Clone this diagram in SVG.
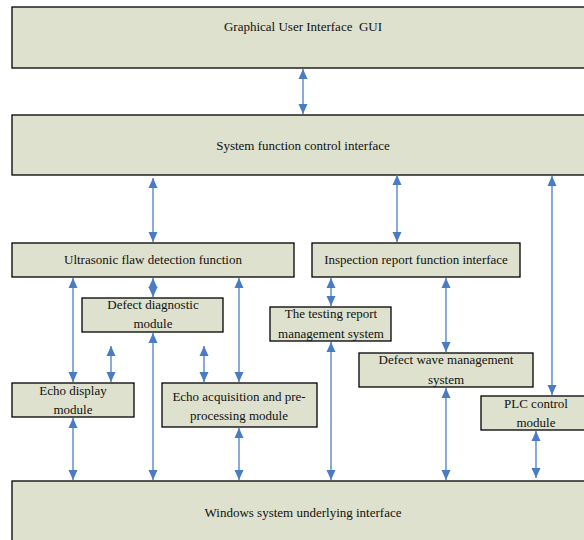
<svg xmlns="http://www.w3.org/2000/svg" width="584" height="540" viewBox="0 0 584 540">
<style>
.box{fill:#dee1cd;stroke:#000;stroke-width:1.3}
.t{font-family:"Liberation Serif","Times New Roman",serif;font-size:13px;fill:#111;text-anchor:middle;white-space:pre}
.c{stroke:#4a7cc6;stroke-width:1.3;fill:none;marker-start:url(#ah);marker-end:url(#ah)}
</style>
<defs>
<marker id="ah" markerUnits="userSpaceOnUse" markerWidth="10" markerHeight="10" refX="10" refY="4.5" orient="auto-start-reverse" viewBox="0 0 10 9">
<path d="M0,0 L10,4.5 L0,9 z" fill="#4a7cc6"/>
</marker>
</defs>
<rect width="584" height="540" fill="#fff"/>
<g id="gui"><rect class="box" x="12" y="7" width="580" height="61"/><text class="t" x="303" y="31" xml:space="preserve">Graphical User Interface  GUI</text></g>
<g id="sys"><rect class="box" x="12" y="115" width="580" height="60"/><text class="t" x="303" y="150">System function control interface</text></g>
<g id="ultra"><rect class="box" x="12" y="243" width="282" height="34"/><text class="t" x="153" y="264">Ultrasonic flaw detection function</text></g>
<g id="insp"><rect class="box" x="312" y="243" width="208" height="34"/><text class="t" x="416" y="264">Inspection report function interface</text></g>
<g id="diag"><rect class="box" x="82" y="298" width="141" height="34"/><text class="t" x="153" y="309">Defect diagnostic</text><text class="t" x="153" y="328">module</text></g>
<g id="testrep"><rect class="box" x="270" y="307" width="121" height="34"/><text class="t" x="331" y="318">The testing report</text><text class="t" x="331" y="338">management system</text></g>
<g id="wave"><rect class="box" x="359" y="353" width="174" height="34"/><text class="t" x="446" y="364">Defect wave management</text><text class="t" x="446" y="384">system</text></g>
<g id="echodisp"><rect class="box" x="12" y="383" width="122" height="34"/><text class="t" x="73" y="395">Echo display</text><text class="t" x="73" y="414">module</text></g>
<g id="echoacq"><rect class="box" x="162" y="383" width="155" height="44"/><text class="t" x="239" y="401">Echo acquisition and pre-</text><text class="t" x="239" y="420">processing module</text></g>
<g id="plc"><rect class="box" x="481" y="396" width="110" height="34"/><text class="t" x="536" y="408">PLC control</text><text class="t" x="536" y="427">module</text></g>
<g id="win"><rect class="box" x="12" y="481" width="580" height="70"/><text class="t" x="303" y="517">Windows system underlying interface</text></g>
<g id="connectors">
<line class="c" x1="303" y1="69" x2="303" y2="114"/>
<line class="c" x1="153" y1="178" x2="153" y2="242"/>
<line class="c" x1="397" y1="175" x2="397" y2="242"/>
<line class="c" x1="552" y1="176" x2="552" y2="395"/>
<line class="c" x1="153" y1="278" x2="153" y2="297"/>
<line class="c" x1="153" y1="333" x2="153" y2="480"/>
<line class="c" x1="73" y1="278" x2="73" y2="382"/>
<line class="c" x1="111" y1="346" x2="111" y2="382"/>
<line class="c" x1="204" y1="346" x2="204" y2="382"/>
<line class="c" x1="239" y1="278" x2="239" y2="382"/>
<line class="c" x1="73" y1="418" x2="73" y2="480"/>
<line class="c" x1="239" y1="428" x2="239" y2="480"/>
<line class="c" x1="331" y1="278" x2="331" y2="306"/>
<line class="c" x1="331" y1="342" x2="331" y2="480"/>
<line class="c" x1="446" y1="278" x2="446" y2="352"/>
<line class="c" x1="446" y1="388" x2="446" y2="480"/>
<line class="c" x1="536" y1="431" x2="536" y2="478"/>
</g>
</svg>
